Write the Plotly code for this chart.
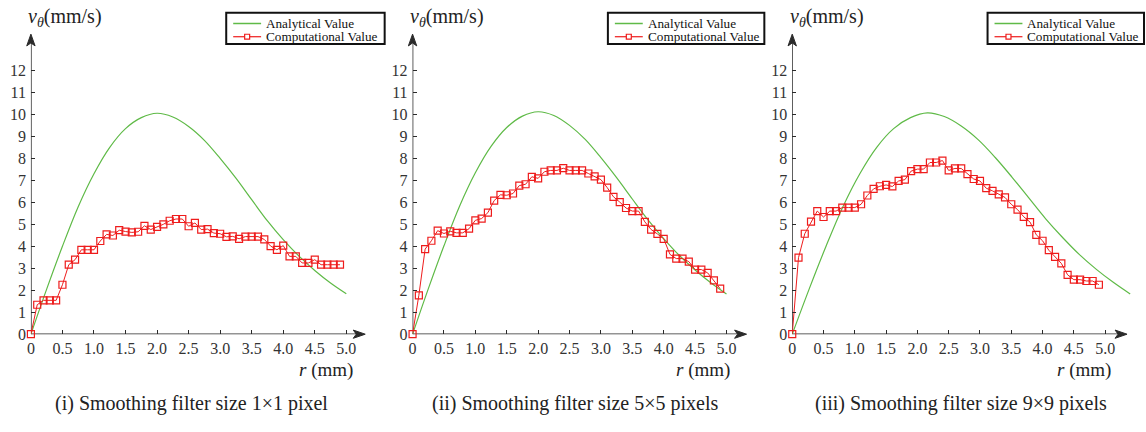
import plotly.graph_objects as go

W, H = 1146, 432
SERIF = "Liberation Serif"
AXIS_COLOR = "#2a2a2a"
GREEN = "#5fba47"
RED = "#ee1c1c"

# radial sample positions (mm)
r_comp = [0.0, 0.1, 0.2, 0.3, 0.4, 0.5, 0.6, 0.7, 0.8, 0.9,
          1.0, 1.1, 1.2, 1.3, 1.4, 1.5, 1.6, 1.7, 1.8, 1.9,
          2.0, 2.1, 2.2, 2.3, 2.4, 2.5, 2.6, 2.7, 2.8, 2.9,
          3.0, 3.1, 3.2, 3.3, 3.4, 3.5, 3.6, 3.7, 3.8, 3.9,
          4.0, 4.1, 4.2, 4.3, 4.4, 4.5, 4.6, 4.7, 4.8, 4.9]

# computed tangential velocity (mm/s) for each filter size
v_comp_1 = [0.0, 1.34, 1.54, 1.54, 1.54, 2.25, 3.16, 3.39, 3.84, 3.84,
            3.84, 4.24, 4.54, 4.49, 4.73, 4.67, 4.63, 4.66, 4.93, 4.76,
            4.88, 5.00, 5.16, 5.24, 5.24, 4.91, 5.06, 4.76, 4.78, 4.60,
            4.57, 4.43, 4.45, 4.34, 4.44, 4.44, 4.44, 4.31, 4.01, 3.84,
            4.03, 3.54, 3.54, 3.24, 3.24, 3.39, 3.16, 3.16, 3.16, 3.16]
v_comp_2 = [0.0, 1.77, 3.87, 4.25, 4.71, 4.58, 4.68, 4.61, 4.61, 4.80,
            5.18, 5.26, 5.53, 6.08, 6.34, 6.32, 6.40, 6.76, 6.82, 7.16,
            7.09, 7.39, 7.45, 7.45, 7.55, 7.45, 7.45, 7.45, 7.31, 7.18,
            7.03, 6.67, 6.25, 6.01, 5.74, 5.60, 5.60, 5.11, 4.76, 4.56,
            4.34, 3.63, 3.44, 3.44, 3.30, 2.94, 2.94, 2.79, 2.45, 2.07]
v_comp_3 = [0.0, 3.48, 4.57, 5.12, 5.60, 5.33, 5.60, 5.60, 5.76, 5.76,
            5.76, 5.91, 6.31, 6.61, 6.73, 6.79, 6.72, 6.97, 7.03, 7.42,
            7.51, 7.51, 7.81, 7.81, 7.90, 7.45, 7.54, 7.54, 7.28, 7.06,
            6.97, 6.64, 6.52, 6.36, 6.22, 5.91, 5.67, 5.34, 5.10, 4.52,
            4.25, 3.82, 3.52, 3.22, 2.70, 2.48, 2.48, 2.42, 2.42, 2.25]

# analytical profile samples
r_ana_1 = [0.0, 0.25, 0.5, 0.75, 1.0, 1.25, 1.5, 1.75, 2.0, 2.25, 2.5,
           2.75, 3.0, 3.25, 3.5, 3.75, 4.0, 4.25, 4.5, 4.75, 5.0]
v_ana_1 = [0.0, 2.05, 4.0, 5.8, 7.3, 8.5, 9.35, 9.85, 10.05, 9.88, 9.45,
           8.82, 8.0, 7.1, 6.12, 5.15, 4.3, 3.55, 2.9, 2.33, 1.84]
r_ana_2 = r_ana_1
v_ana_2 = [0.0, 2.06, 4.02, 5.83, 7.34, 8.54, 9.4, 9.92, 10.12, 9.95, 9.5,
           8.86, 8.03, 7.12, 6.15, 5.2, 4.35, 3.58, 2.92, 2.34, 1.83]
r_ana_3 = [0.0, 0.27, 0.54, 0.81, 1.08, 1.35, 1.62, 1.89, 2.16, 2.43, 2.7,
           2.97, 3.24, 3.51, 3.78, 4.05, 4.32, 4.59, 4.86, 5.13, 5.4]
v_ana_3 = [0.0, 2.05, 4.0, 5.8, 7.3, 8.5, 9.35, 9.85, 10.07, 9.9, 9.47,
           8.85, 8.05, 7.15, 6.2, 5.25, 4.4, 3.62, 2.95, 2.36, 1.83]

x_tick_vals = [0, 0.5, 1.0, 1.5, 2.0, 2.5, 3.0, 3.5, 4.0, 4.5, 5.0]
x_tick_text = ["0", "0.5", "1.0", "1.5", "2.0", "2.5", "3.0", "3.5", "4.0", "4.5", "5.0"]
y_tick_vals = list(range(0, 13))
y_tick_text = [str(v) for v in y_tick_vals]

captions = ["(i) Smoothing filter size 1\u00d71 pixel",
            "(ii) Smoothing filter size 5\u00d75 pixels",
            "(iii) Smoothing filter size 9\u00d79 pixels"]

# panel geometry in pixels: origin x, pixels per mm, x-range end, arrow end
panels = [
    dict(x0=27, ppu=63.3, xmax=5.35, xarrow=5.3, leg=(223, 382), vlab=22, rlab=352, cap=188,
         ra=r_ana_1, va=v_ana_1, vc=v_comp_1),
    dict(x0=410, ppu=63.0, xmax=5.35, xarrow=5.32, leg=(606, 763), vlab=405, rlab=731, cap=573,
         ra=r_ana_2, va=v_ana_2, vc=v_comp_2),
    dict(x0=791, ppu=62.8, xmax=5.45, xarrow=5.35, leg=(987, 1144), vlab=787, rlab=1113, cap=960,
         ra=r_ana_3, va=v_ana_3, vc=v_comp_3),
]
Y0_PX, PPU_Y, YMAX, YARROW = 341.3, 22.45, 13.7, 13.65


def px(x):
    return x / W


def py(y):
    return 1 - y / H


def arrow_path(tx, ty, direction):
    """Dart-shaped arrowhead with its tip at pixel (tx, ty)."""
    L, hw, notch = 12, 4.2, 9
    if direction == "right":
        pts = [(tx, ty), (tx - L, ty - hw), (tx - notch, ty), (tx - L, ty + hw)]
    else:
        pts = [(tx, ty), (tx - hw, ty + L), (tx, ty + notch), (tx + hw, ty + L)]
    d = "M " + " L ".join(f"{px(a):.6f},{py(b):.6f}" for a, b in pts) + " Z"
    return dict(type="path", path=d, xref="paper", yref="paper",
                fillcolor=AXIS_COLOR, line=dict(color=AXIS_COLOR, width=1))


fig = go.Figure()
shapes, annotations = [], []

for i, p in enumerate(panels, start=1):
    sfx = "" if i == 1 else str(i)
    xref, yref = "x" + sfx, "y" + sfx

    fig.add_trace(go.Scatter(x=p["ra"], y=p["va"], mode="lines",
                             line=dict(color=GREEN, width=1.2, shape="spline", smoothing=1.0),
                             xaxis=xref, yaxis=yref, showlegend=False, cliponaxis=False))
    fig.add_trace(go.Scatter(x=r_comp, y=p["vc"], mode="lines+markers",
                             line=dict(color=RED, width=1),
                             marker=dict(symbol="square-open", size=7, color=RED,
                                         line=dict(width=1.2, color=RED)),
                             xaxis=xref, yaxis=yref, showlegend=False, cliponaxis=False))

    x_dom = [px(p["x0"]), px(p["x0"] + p["xmax"] * p["ppu"])]
    y_dom = [py(Y0_PX), py(Y0_PX - YMAX * PPU_Y)]
    tickfont = dict(family=SERIF, size=16, color="#333333")
    fig.layout["xaxis" + sfx] = dict(
        domain=x_dom, range=[0, p["xmax"]], anchor=yref, showline=False, showgrid=False,
        zeroline=False, ticks="inside", ticklen=4, tickwidth=1, tickcolor=AXIS_COLOR,
        tickvals=x_tick_vals, ticktext=x_tick_text, tickfont=tickfont,
        ticklabelstandoff=3, fixedrange=True)
    fig.layout["yaxis" + sfx] = dict(
        domain=y_dom, range=[0, YMAX], anchor=xref, showline=False, showgrid=False,
        zeroline=False, ticks="inside", ticklen=4, tickwidth=1, tickcolor=AXIS_COLOR,
        tickvals=y_tick_vals, ticktext=y_tick_text, tickfont=tickfont,
        ticklabelstandoff=4, fixedrange=True)

    # axis lines with arrowheads
    shapes.append(dict(type="line", xref=xref, yref=yref, x0=0, x1=p["xarrow"] - 0.1,
                       y0=0, y1=0, layer="below", line=dict(color=AXIS_COLOR, width=1.5)))
    shapes.append(dict(type="line", xref=xref, yref=yref, x0=0, x1=0,
                       y0=0, y1=YARROW - 0.3, layer="below", line=dict(color=AXIS_COLOR, width=1.5)))
    shapes.append(arrow_path(p["x0"] + p["xarrow"] * p["ppu"], Y0_PX, "right"))
    shapes.append(arrow_path(p["x0"], Y0_PX - YARROW * PPU_Y, "up"))

    # axis titles and caption
    annotations.append(dict(x=px(p["vlab"]), y=py(18), xref="paper", yref="paper",
                            xanchor="left", yanchor="middle", showarrow=False,
                            text="<i>v</i><sub><i>\u03b8</i></sub>(mm/s)",
                            font=dict(family=SERIF, size=20, color="#222222")))
    annotations.append(dict(x=px(p["rlab"]), y=py(378), xref="paper", yref="paper",
                            xanchor="right", yanchor="middle", showarrow=False,
                            text="<i>r</i> (mm)",
                            font=dict(family=SERIF, size=19, color="#222222")))
    annotations.append(dict(x=px(p["cap"]), y=py(412), xref="paper", yref="paper",
                            xanchor="center", yanchor="middle", showarrow=False,
                            text=captions[i - 1],
                            font=dict(family=SERIF, size=20, color="#222222")))

    # legend box
    bx0, bx1 = p["leg"]
    shapes.append(dict(type="rect", xref="paper", yref="paper",
                       x0=px(bx0), x1=px(bx1), y0=py(45), y1=py(13),
                       line=dict(color="#111111", width=2), fillcolor="white"))
    shapes.append(dict(type="line", xref="paper", yref="paper",
                       x0=px(bx0 + 7), x1=px(bx0 + 35), y0=py(24), y1=py(24),
                       line=dict(color=GREEN, width=1.5)))
    shapes.append(dict(type="line", xref="paper", yref="paper",
                       x0=px(bx0 + 7), x1=px(bx0 + 35), y0=py(37.5), y1=py(37.5),
                       line=dict(color=RED, width=1.2)))
    shapes.append(dict(type="rect", xref="paper", yref="paper",
                       x0=px(bx0 + 18.5), x1=px(bx0 + 23.5), y0=py(40), y1=py(35),
                       line=dict(color=RED, width=1.2), fillcolor="white"))
    for label, yy in (("Analytical Value", 24), ("Computational Value", 37.5)):
        annotations.append(dict(x=px(bx0 + 38), y=py(yy), xref="paper", yref="paper",
                                xanchor="left", yanchor="middle", showarrow=False,
                                text=label, font=dict(family=SERIF, size=13.2, color="#111111")))

fig.update_layout(width=W, height=H, margin=dict(l=0, r=0, t=0, b=0),
                  paper_bgcolor="white", plot_bgcolor="white",
                  shapes=shapes, annotations=annotations, showlegend=False)

fig.write_html("out.html")
